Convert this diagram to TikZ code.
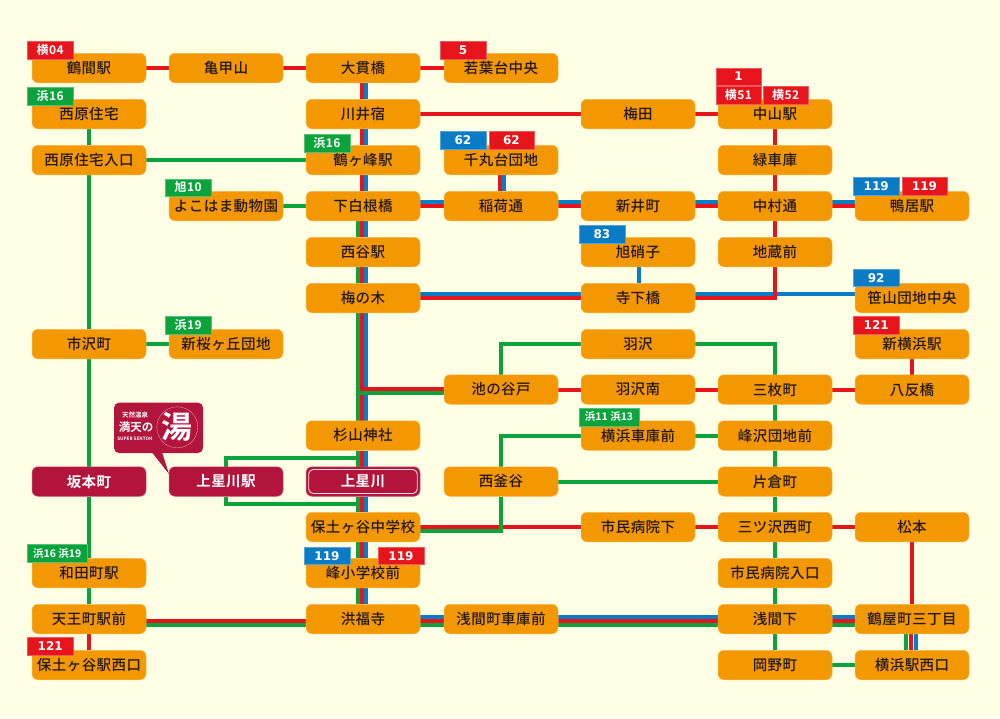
\documentclass[tikz,border=0pt]{standalone}
\usepackage{fontspec}
\setmainfont{Noto Sans CJK JP}
\newfontfamily\jp[LetterSpace=3]{Noto Sans CJK JP Medium}
\newfontfamily\jpb[LetterSpace=3]{Noto Sans CJK JP Bold}
\newfontfamily\lbl[LetterSpace=4]{Noto Sans CJK JP Bold}
\newfontfamily\lblw[LetterSpace=0]{Noto Sans CJK JP Bold}
\newfontfamily\numfam{DejaVu Sans}
\newcommand{\num}{\numfam\bfseries}
\definecolor{pagebg}{HTML}{FFFFE6}
\definecolor{stnor}{HTML}{F39800}
\definecolor{stnedge}{HTML}{F8B950}
\definecolor{crim}{HTML}{B2143C}
\definecolor{rline}{HTML}{E8141C}
\definecolor{gline}{HTML}{0BA33C}
\definecolor{bline}{HTML}{0A7CC6}
\definecolor{ink}{HTML}{231815}
\pgfdeclarelayer{paper}
\pgfdeclarelayer{lines}
\pgfsetlayers{paper,lines,main}
\tikzset{
  stn/.style={rectangle,rounded corners=6pt,fill=stnor,draw=stnedge,line width=.5pt,
    minimum width=114pt,minimum height=29.5pt,inner sep=0pt,text=ink,
    font=\fontsize{14.5}{15}\selectfont\jp},
  stnred/.style={stn,fill=crim,draw=crim!70!white,text=white,font=\fontsize{14.5}{15}\selectfont\jpb},
  tagbox/.style={rectangle,anchor=north west,inner sep=0pt,minimum height=17.5pt,text=white},
  rl/.style={draw=rline,line width=4pt},
  gl/.style={draw=gline,line width=4pt},
  bl/.style={draw=bline,line width=4pt},
}
\newcommand{\st}[4]{\node[stn] (#1) at (#2,#3) {#4};}
\newcommand{\tg}[7]{\node[tagbox,fill=#2,draw=#2!70!white,line width=.4pt,minimum width=#5pt,font=\fontsize{#6}{#6}\selectfont] (#1) at (#3,#4) {#7};}
\begin{document}
\begin{tikzpicture}[x=1pt,y=-1pt]
\useasboundingbox (0,0) rectangle (1000,718);
\begin{pgfonlayer}{paper}
\fill[pagebg] (0,0) rectangle (1000,718);
\end{pgfonlayer}
% stations
\st{tsuruma}{89}{68}{鶴間駅}
\st{kame}{226}{68}{亀甲山}
\st{onuki}{363}{68}{大貫橋}
\st{wakaba}{501}{68}{若葉台中央}
\st{nishihara}{89}{114}{西原住宅}
\st{kawai}{363}{114}{川井宿}
\st{umeda}{638}{114}{梅田}
\st{nakayama}{775}{114}{中山駅}
\st{nishiiri}{89}{160}{西原住宅入口}
\st{tsurugamine}{363}{160}{鶴ヶ峰駅}
\st{senmaru}{501}{160}{千丸台団地}
\st{midori}{775}{160}{緑車庫}
\st{zoo}{226}{206}{よこはま動物園}
\st{shimoshira}{363}{206}{下白根橋}
\st{inari}{501}{206}{稲荷通}
\st{arai}{638}{206}{新井町}
\st{nakamura}{775}{206}{中村通}
\st{kamoi}{912}{206}{鴨居駅}
\st{nishiya}{363}{252}{西谷駅}
\st{asahi}{638}{252}{旭硝子}
\st{jizo}{775}{252}{地蔵前}
\st{umenoki}{363}{298}{梅の木}
\st{terashita}{638}{298}{寺下橋}
\st{sasayama}{912}{298}{笹山団地中央}
\st{ichizawa}{89}{344}{市沢町}
\st{shinsakura}{226}{344}{新桜ヶ丘団地}
\st{hazawa}{638}{344}{羽沢}
\st{shinyoko}{912}{344}{新横浜駅}
\st{ikenoya}{501}{389.5}{池の谷戸}
\st{hazawam}{638}{389.5}{羽沢南}
\st{sanmai}{775}{389.5}{三枚町}
\st{hatchotan}{912}{389.5}{八反橋}
\st{sugiyama}{363}{435.5}{杉山神社}
\st{yokosha}{638}{435.5}{横浜車庫前}
\st{minesawa}{775}{435.5}{峰沢団地前}
\node[stnred] (sakamoto) at (89,481.5) {坂本町};
\node[stnred] (kamieki) at (226,481.5) {上星川駅};
\node[stnred] (kami) at (363,481.5) {上星川};
\draw[white!85!crim,line width=.9pt,rounded corners=4.5pt] ([shift={(3pt,3pt)}]kami.south west) rectangle ([shift={(-3pt,-3pt)}]kami.north east);
\st{nishikama}{501}{481.5}{西釜谷}
\st{katakura}{775}{481.5}{片倉町}
\st{hodochu}{363}{527}{保土ヶ谷中学校}
\st{shiminshita}{638}{527}{市民病院下}
\st{mitsuzawa}{775}{527}{三ツ沢西町}
\st{matsumoto}{912}{527}{松本}
\st{wadamachi}{89}{573}{和田町駅}
\st{mineshou}{363}{573}{峰小学校前}
\st{shiminiri}{775}{573}{市民病院入口}
\st{tennocho}{89}{619}{天王町駅前}
\st{kofukuji}{363}{619}{洪福寺}
\st{sengensha}{501}{619}{浅間町車庫前}
\st{sengenshita}{775}{619}{浅間下}
\st{tsuruya}{912}{619}{鶴屋町三丁目}
\st{hodonishi}{89}{665}{保土ヶ谷駅西口}
\st{okano}{775}{665}{岡野町}
\st{yokonishi}{912}{665}{横浜駅西口}
% junctions on the central trunk
\coordinate (jred) at (360,389);
\coordinate (jgreen) at (356,393);
\coordinate (jloopa) at (357.5,457.7);
\coordinate (jloopb) at (357.5,504.3);
\begin{pgfonlayer}{lines}
% single red
\foreach \a/\b in {tsuruma/kame,kame/onuki,onuki/wakaba,kawai/umeda,umeda/nakayama,
  hazawam/sanmai,sanmai/hatchotan,ikenoya/hazawam,shiminshita/mitsuzawa,mitsuzawa/matsumoto}
  \draw[rl] (\a.east) -- (\b.west);
\foreach \a/\b in {nakayama/midori,midori/nakamura,nakamura/jizo,shinyoko/hatchotan,matsumoto/tsuruya,tennocho/hodonishi}
  \draw[rl] (\a.south) -- (\b.north);
% single blue
\draw[bl] ([xshift=1pt]asahi.south) -- ([xshift=1pt]terashita.north);
\draw[bl] ([yshift=4pt]terashita.east) -- ([yshift=4pt]sasayama.west);
% red branch 地蔵前 to 寺下橋
\draw[rl] (jizo.south) |- (terashita.east);
% central trunk
\foreach \a/\b in {onuki/kawai,kawai/tsurugamine,tsurugamine/shimoshira,shimoshira/nishiya,nishiya/umenoki,
  umenoki/sugiyama,sugiyama/kami,kami/hodochu,hodochu/mineshou,mineshou/kofukuji}
  \draw[bl] ([xshift=3pt]\a.south) -- ([xshift=3pt]\b.north);
\foreach \a/\b in {shimoshira/nishiya,nishiya/umenoki,umenoki/sugiyama,sugiyama/kami,kami/hodochu,hodochu/mineshou,mineshou/kofukuji}
  \draw[gl] ([xshift=-5.5pt]\a.south) -- ([xshift=-5.5pt]\b.north);
\foreach \a/\b in {onuki/kawai,kawai/tsurugamine,tsurugamine/shimoshira,shimoshira/nishiya,nishiya/umenoki,
  umenoki/sugiyama,sugiyama/kami,kami/hodochu,hodochu/mineshou,mineshou/kofukuji}
  \draw[rl] ([xshift=-1.5pt]\a.south) -- ([xshift=-1.5pt]\b.north);
\draw[rl] (jred) -- (ikenoya.west |- jred);
\draw[gl] (jgreen) -- (ikenoya.west |- jgreen);
% doubles
\foreach \a/\b in {shimoshira/inari,inari/arai,arai/nakamura,nakamura/kamoi,umenoki/terashita}{
  \draw[bl] ([yshift=4pt]\a.east) -- ([yshift=4pt]\b.west);
  \draw[rl] (\a.east) -- (\b.west);
}
\draw[rl] ([xshift=-1pt]senmaru.south) -- ([xshift=-1pt]inari.north);
\draw[bl] ([xshift=3.2pt]senmaru.south) -- ([xshift=3.2pt]inari.north);
% triples
\draw[rl] ([yshift=-1.7pt]tennocho.east) -- ([yshift=-1.7pt]kofukuji.west);
\draw[gl] ([yshift=-6pt]tennocho.east) -- ([yshift=-6pt]kofukuji.west);
\foreach \a/\b in {kofukuji/sengensha,sengensha/sengenshita,sengenshita/tsuruya}{
  \draw[bl] ([yshift=2.3pt]\a.east) -- ([yshift=2.3pt]\b.west);
  \draw[rl] ([yshift=-1.7pt]\a.east) -- ([yshift=-1.7pt]\b.west);
  \draw[gl] ([yshift=-6pt]\a.east) -- ([yshift=-6pt]\b.west);
}
\draw[gl] ([xshift=-5.7pt]tsuruya.south) -- ([xshift=-5.7pt]yokonishi.north);
\draw[rl] ([xshift=-.7pt]tsuruya.south) -- ([xshift=-.7pt]yokonishi.north);
\draw[bl] ([xshift=3.7pt]tsuruya.south) -- ([xshift=3.7pt]yokonishi.north);
% green
\foreach \a/\b in {nishihara/nishiiri,nishiiri/ichizawa,ichizawa/sakamoto,sakamoto/wadamachi,wadamachi/tennocho,
  sanmai/minesawa,minesawa/katakura,katakura/mitsuzawa,mitsuzawa/shiminiri,shiminiri/sengenshita,sengenshita/okano}
  \draw[gl] (\a.south) -- (\b.north);
\foreach \a/\b in {nishiiri/tsurugamine,zoo/shimoshira,ichizawa/shinsakura,yokosha/minesawa,nishikama/katakura,okano/yokonishi}
  \draw[gl] (\a.east) -- (\b.west);
\draw[gl] (hazawa.west) -| (ikenoya.north);
\draw[gl] (hazawa.east) -| (sanmai.north);
\draw[gl] (yokosha.west) -| (nishikama.north);
\draw[rl] (hodochu.east) -- (shiminshita.west);
\draw[gl] ([yshift=-3.7pt]hodochu.east) -| (nishikama.south);
\draw[gl] (jloopa) -| (kamieki.north);
\draw[gl] (jloopb) -| (kamieki.south);
\end{pgfonlayer}
% route tags
\tg{t01}{rline}{27}{41}{46}{12}{\lbl 横04}
\tg{t02}{gline}{27}{87}{46}{12}{\lbl 浜16}
\tg{t03}{gline}{304}{134}{45.5}{12}{\lbl 浜16}
\tg{t04}{gline}{165}{178.5}{46}{12}{\lbl 旭10}
\tg{t05}{rline}{440}{41}{45.5}{12}{\num 5}
\tg{t06}{rline}{715.5}{67.5}{45.5}{12}{\num 1}
\tg{t07}{rline}{715.5}{86}{45.5}{12}{\lbl 横51}
\tg{t08}{rline}{762.7}{86}{45.5}{12}{\lbl 横52}
\tg{t09}{bline}{440}{131}{45.5}{12}{\num 62}
\tg{t10}{rline}{488.5}{131}{45.5}{12}{\num 62}
\tg{t11}{bline}{853}{177}{46}{12}{\num 119}
\tg{t12}{rline}{901.5}{177}{45.5}{12}{\num 119}
\tg{t13}{bline}{579}{225.3}{45.5}{12}{\num 83}
\tg{t14}{bline}{853}{268.7}{46}{12}{\num 92}
\tg{t15}{rline}{853}{316}{46}{12}{\num 121}
\tg{t16}{gline}{165}{316}{46}{12}{\lbl 浜19}
\tg{t17}{gline}{579}{408}{59.7}{10.5}{\lblw 浜11 浜13}
\tg{t18}{bline}{304}{546.7}{45.5}{12}{\num 119}
\tg{t19}{rline}{378}{546.7}{45.5}{12}{\num 119}
\tg{t20}{gline}{27}{544.3}{60}{10.5}{\lblw 浜16 浜19}
\tg{t21}{rline}{27}{637}{46}{12}{\num 121}
% balloon
\fill[crim,rounded corners=5pt] (114,402.7) rectangle (203,453);
\fill[crim] (151.7,452) -- (162,452) -- (169,474) -- cycle;
\draw[white!60!crim,line width=.35pt] (177.3,427.3) circle (20.5pt);
\node[text=white,inner sep=0pt,font=\fontsize{31}{31}\selectfont\lblw] (yu) at (177.3,426.5) {湯};
\node[text=white,inner sep=0pt,font=\fontsize{6.5}{7}\selectfont\lblw] (b1) at (135,415) {天然温泉};
\node[text=white,inner sep=0pt,font=\fontsize{11.5}{12}\selectfont\lblw] (b2) at (136,427.5) {満天の};
\node[text=white,inner sep=0pt,font=\fontsize{4.6}{5}\selectfont\lblw] (b3) at (135,438.5) {SUPER SENTOH};
\end{tikzpicture}
\end{document}
